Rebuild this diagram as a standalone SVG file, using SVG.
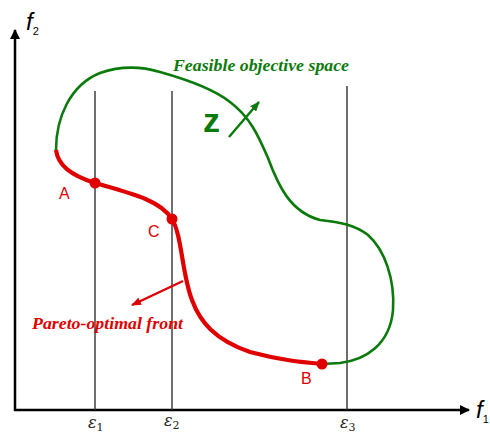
<svg xmlns="http://www.w3.org/2000/svg" width="490" height="433" viewBox="0 0 490 433">
<defs>
<marker id="ah" markerWidth="10" markerHeight="10" refX="9" refY="5" orient="auto" markerUnits="userSpaceOnUse"><path d="M0,0 L10,5 L0,10 Z" fill="#000"/></marker>
<marker id="ahG" markerWidth="10" markerHeight="8" refX="9" refY="4" orient="auto" markerUnits="userSpaceOnUse"><path d="M0,0 L10,4 L0,8 Z" fill="#0a7a0a"/></marker>
<marker id="ahR" markerWidth="10" markerHeight="8" refX="9" refY="4" orient="auto" markerUnits="userSpaceOnUse"><path d="M0,0 L10,4 L0,8 Z" fill="#e00000"/></marker>
</defs>
<style>
.axis{stroke:#000;stroke-width:2.5;fill:none}
.eps{stroke:#333;stroke-width:1.4;fill:none}
.green{stroke:#0a7a0a;stroke-width:2.6;fill:none}
.red{stroke:#e00000;stroke-width:4.2;fill:none}
.pt{fill:#e00000}
.lab{font-family:"Liberation Sans",Arial,sans-serif;font-size:16px;fill:#e00000}
.ax{font-family:"Liberation Sans",Arial,sans-serif;font-style:italic;font-size:24px;fill:#000}
.ep{font-family:"DejaVu Serif","Liberation Serif",serif;font-style:italic;font-size:16px;fill:#222}
.sub{font-size:11px;font-style:normal}
.it{font-family:"Liberation Serif","Times New Roman",serif;font-style:italic;font-weight:bold;font-size:17px}
</style>
<g id="axes">
<line class="axis" x1="15" y1="411" x2="15" y2="30" marker-end="url(#ah)"/>
<line class="axis" x1="14" y1="410" x2="469" y2="410" marker-end="url(#ah)"/>
<text class="ax" x="26" y="30">f<tspan class="sub" font-size="13" dy="5">2</tspan></text>
<text class="ax" x="476" y="418">f<tspan class="sub" font-size="13" dy="5">1</tspan></text>
</g>
<g id="epsilon-lines">
<line class="eps" x1="95" y1="91" x2="95" y2="410"/>
<line class="eps" x1="172" y1="91" x2="172" y2="410"/>
<line class="eps" x1="347" y1="86" x2="347" y2="410"/>
<text class="ep" x="88" y="428">ε<tspan font-size="11" font-style="normal" dy="3">1</tspan></text>
<text class="ep" x="164" y="426">ε<tspan font-size="11" font-style="normal" dy="3">2</tspan></text>
<text class="ep" x="340" y="428">ε<tspan font-size="11" font-style="normal" dy="3">3</tspan></text>
</g>
<g id="feasible-space">
<path class="green" d="M56,150 C56,118 70,85 100,73 C120,66 140,66 160,72 C185,79 215,90 230,102 C250,117 258,135 268,158 C278,185 290,212 320,220 C340,222 355,225 368,235 C385,250 395,280 393,310 C390,345 365,360 340,363 L322,364"/>
<text class="it" x="173" y="71" fill="#0a7a0a" textLength="176" lengthAdjust="spacingAndGlyphs">Feasible objective space</text>
</g>
<g id="z-direction">
<text x="203" y="132" font-family="Liberation Sans,Arial,sans-serif" font-weight="bold" font-size="34" fill="#0a7a0a">z</text>
</g>
<g id="pareto-front">
<path class="red" d="M56,150 C58,165 70,175 95,183 C130,193 160,200 172,219 C182,235 182,275 192,300 C200,322 215,340 250,352 C280,360 300,362 322,364"/>
<text class="it" x="32" y="329" fill="#e00000" textLength="151" lengthAdjust="spacingAndGlyphs">Pareto-optimal front</text>
</g>
<g id="point-A"><circle class="pt" cx="95" cy="183" r="5.5"/><text class="lab" x="59" y="199">A</text></g>
<g id="point-C"><circle class="pt" cx="172" cy="219" r="5.5"/><text class="lab" x="148" y="237">C</text></g>
<g id="point-B"><circle class="pt" cx="322" cy="364" r="5.5"/><text class="lab" x="301" y="384">B</text></g>
<g id="connectors">
<line x1="229" y1="137" x2="259" y2="102" stroke="#0a7a0a" stroke-width="2.4" marker-end="url(#ahG)"/>
<line x1="183" y1="281" x2="132" y2="305" stroke="#e00000" stroke-width="2.4" marker-end="url(#ahR)"/>
</g>
</svg>
